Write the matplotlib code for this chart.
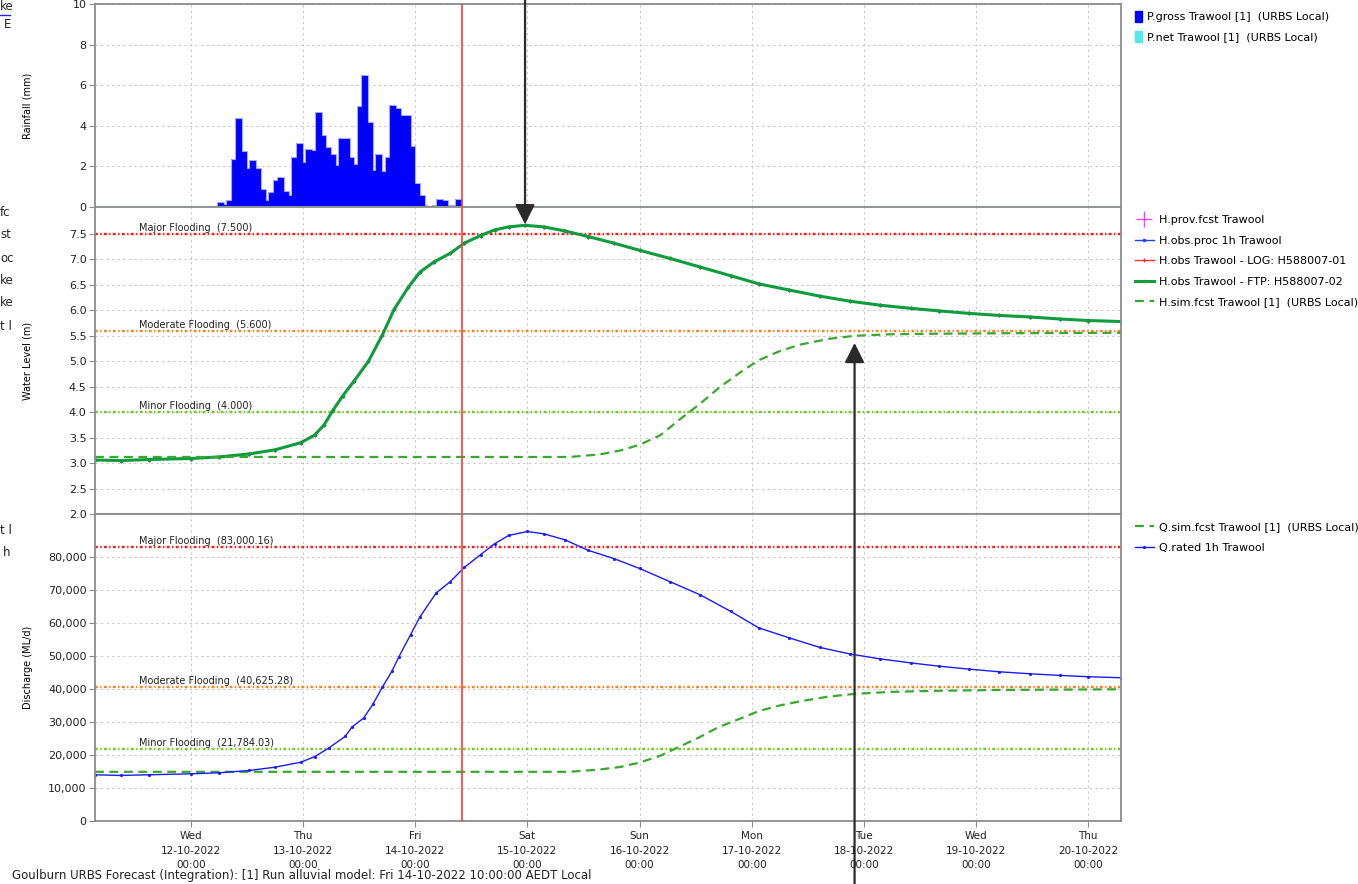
import numpy as np
import matplotlib
matplotlib.use("Agg")
import matplotlib.pyplot as plt
from matplotlib.patches import Patch
from matplotlib.lines import Line2D

# time axis in hours since Wed 12-10-2022 00:00
day_ticks = [0, 24, 48, 72, 96, 120, 144, 168, 192]
day_labels = ["Wed\n12-10-2022\n00:00", "Thu\n13-10-2022\n00:00", "Fri\n14-10-2022\n00:00",
              "Sat\n15-10-2022\n00:00", "Sun\n16-10-2022\n00:00", "Mon\n17-10-2022\n00:00",
              "Tue\n18-10-2022\n00:00", "Wed\n19-10-2022\n00:00", "Thu\n20-10-2022\n00:00"]
forecast_time = 58.0  # Fri 14-10-2022 10:00

# rainfall, half-hourly (run length encoded: value, number of half hours)
rain_start = 5.5
rain_mm = [0.26, 0.15, 0.33, 2.35, 4.37, 2.76, 1.9, 2.3, 1.94, 0.87,
           0.34, 0.74, 1.31, 1.49, 0.8, 0.57, 2.46, 3.15, 2.23, 2.87,
           2.81, 4.69, 3.55, 2.97, 2.63, 2.07, 3.38, 2.46, 2.12, 4.99,
           6.49, 4.2, 1.81, 2.63, 1.79, 2.46, 5.01, 4.89, 4.53, 4.55,
           2.99, 1.2, 0.61, 0.1, 0.0, 0.1, 0.39, 0.33, 0.1, 0.39]
rain_n = [3, 1, 2, 2, 3, 2, 1, 3, 2, 2,
          1, 2, 2, 3, 2, 1, 2, 3, 1, 3,
          1, 3, 2, 2, 2, 1, 5, 2, 1, 2,
          3, 2, 1, 3, 1, 2, 3, 2, 1, 3,
          2, 2, 2, 1, 2, 2, 3, 2, 3, 3]
pnet_hours = [-20.5, 199]
pnet_mm = [0, 0]

# water level observed
lvl_hours = [-20.5, -15, -9, 0, 6, 12.5, 18, 23.5, 26.5, 28.5,
             30.5, 32.5, 35, 38, 41, 43.5, 46.5, 49, 52, 55.5,
             58.5, 62, 65, 68, 71.5, 75.5, 80, 85, 90.5, 96,
             102.5, 109, 115.5, 121.5, 128, 134.5, 141, 147.5, 154, 160,
             166.5, 173, 179.5, 186, 192, 199]
lvl_obs = [3.06, 3.05, 3.07, 3.09, 3.12, 3.18, 3.26, 3.40, 3.55, 3.75,
           4.05, 4.32, 4.62, 5.00, 5.52, 6.02, 6.45, 6.75, 6.95, 7.12,
           7.32, 7.47, 7.58, 7.64, 7.67, 7.64, 7.56, 7.45, 7.32, 7.18,
           7.02, 6.85, 6.68, 6.52, 6.40, 6.28, 6.18, 6.10, 6.04, 5.99,
           5.94, 5.90, 5.87, 5.83, 5.80, 5.78]

# simulated forecast (level and discharge share the same times)
sim_hours = [-20.5, 81, 87.5, 92, 96, 100.5, 104.5, 109, 113, 117.5,
             121.5, 126, 130.5, 136.5, 142, 149.5, 158, 173, 199]
lvl_sim = [3.12, 3.12, 3.17, 3.25, 3.36, 3.55, 3.85, 4.17, 4.48, 4.78,
           5.02, 5.20, 5.33, 5.44, 5.50, 5.53, 5.54, 5.55, 5.56]
q_sim = [14900, 14900, 15600, 16400, 17700, 19800, 22500, 25500, 28500, 31000,
         33300, 35000, 36300, 37700, 38500, 39100, 39400, 39700, 39900]

# rated discharge
q_hours = [-20.5, -15, -9, 0, 6, 12.5, 18, 23.5, 26.5, 29.5,
           33, 34.5, 37, 39, 41, 43, 44.5, 47, 49, 52.5,
           55.5, 58.5, 62, 65, 68, 72, 75.5, 80, 85, 90.5,
           96, 102.5, 109, 115.5, 121.5, 128, 134.5, 141, 147.5, 154,
           160, 166.5, 173, 179.5, 186, 192, 199]
q_rated = [14000, 13800, 14000, 14300, 14600, 15300, 16300, 17800, 19500, 22100,
           25600, 28500, 31200, 35500, 40600, 45300, 49700, 56400, 61800, 69100,
           72500, 76800, 80700, 84000, 86500, 87700, 87000, 85200, 82000, 79500,
           76500, 72500, 68500, 63500, 58500, 55500, 52600, 50600, 49100, 47900,
           46900, 46000, 45200, 44600, 44100, 43700, 43400]

lvl_thr = [7.5, 5.6, 4.0]
lvl_thr_labels = ["Major Flooding  (7.500)", "Moderate Flooding  (5.600)", "Minor Flooding  (4.000)"]
q_thr = [83000.16, 40625.28, 21784.03]
q_thr_labels = ["Major Flooding  (83,000.16)", "Moderate Flooding  (40,625.28)", "Minor Flooding  (21,784.03)"]
thr_colors = ["#ff1a1a", "#ff8020", "#70cc20"]

peak_time, peak_level = 71.5, 7.67
sim_arrow_time, sim_arrow_level = 142, 5.36

W, H = 1358, 884
fig = plt.figure(figsize=(W / 100, H / 100), dpi=100)


def box(l, t, r, b):
    return [l / W, 1 - b / H, (r - l) / W, (b - t) / H]


ax1 = fig.add_axes(box(95, 4, 1121, 207))
ax2 = fig.add_axes(box(95, 207, 1121, 514), sharex=ax1)
ax3 = fig.add_axes(box(95, 514, 1121, 821), sharex=ax1)

narrow = ["Liberation Sans Narrow", "DejaVu Sans"]
grid_kw = dict(color="#c8c8c8", linestyle=(0, (2, 3)), linewidth=0.8)
for ax in (ax1, ax2, ax3):
    ax.grid(True, **grid_kw)
    ax.set_axisbelow(True)
    for s in ax.spines.values():
        s.set_color("#8c8c8c")
        s.set_linewidth(1.3)
    ax.tick_params(axis="y", length=4, color="#8c8c8c", labelsize=8, pad=2, labelcolor="#222222")
    ax.axvline(forecast_time, color="#ff3b3b", lw=1.2, zorder=4)
ax1.tick_params(axis="x", length=0, labelbottom=False)
ax2.tick_params(axis="x", length=0, labelbottom=False)

ax1.set_xlim(-20.5, 199)
ax1.set_xticks(day_ticks)

leg_kw = dict(frameon=False, fontsize=8, handletextpad=0.5, borderaxespad=0, borderpad=0)
sim_dash = (0, (4, 2.5))

# rainfall panel
rain = np.repeat(rain_mm, rain_n)
edges = rain_start + 0.5 * np.arange(len(rain) + 1)
ax1.stairs(rain, edges, fill=True, color="#0000ff", zorder=2)
ax1.stairs(rain, edges, color="#a8a8ff", lw=0.8, zorder=2)
ax1.plot(pnet_hours, pnet_mm, color="#4fe3e3", lw=2.2, zorder=3)
ax1.set_ylim(0, 10)
ax1.set_yticks(range(0, 11, 2))
ax1.set_ylabel("Rainfall (mm)", fontsize=7)
ax1.yaxis.set_label_coords(-62 / 1026, 0.5)
fig.legend([Patch(color="#0000ff"), Patch(color="#55e8e8")],
           ["P.gross Trawool [1]  (URBS Local)", "P.net Trawool [1]  (URBS Local)"],
           loc="upper left", bbox_to_anchor=(1135 / W, 1 - 11 / H),
           handlelength=0.6, handleheight=1.2, labelspacing=0.75, **leg_kw)

# water level panel
dash_thr = (0, (1.2, 1.0, 0.6, 1.0))
for thr, lab, col in zip(lvl_thr, lvl_thr_labels, thr_colors):
    ax2.axhline(thr, color=col, lw=1.7, linestyle=dash_thr, zorder=2)
    ax2.text(-11, thr + 0.02, lab, fontsize=7, va="bottom", color="#222222", family=narrow)
ax2.plot([], [], color="#ff40ff", marker="+", ms=11, ls="none", label="H.prov.fcst Trawool")
ax2.plot(lvl_hours, lvl_obs, color="#2040ff", lw=1, marker=".", ms=3, label="H.obs.proc 1h Trawool")
ax2.plot(lvl_hours, lvl_obs, color="#ff3030", lw=1, marker="|", ms=3, label="H.obs Trawool - LOG: H588007-01")
ax2.plot(lvl_hours, lvl_obs, color="#0f9c3c", lw=2.2, marker=".", ms=3, label="H.obs Trawool - FTP: H588007-02")
ax2.plot(sim_hours, lvl_sim, color="#3aa82e", lw=1.6, linestyle=sim_dash, label="H.sim.fcst Trawool [1]  (URBS Local)")
ax2.set_ylim(2.0, 8.03)
ax2.set_yticks(np.arange(2.0, 7.51, 0.5))
ax2.set_yticklabels([f"{v:.1f}" for v in np.arange(2.0, 7.51, 0.5)])
ax2.set_ylabel("Water Level (m)", fontsize=7)
ax2.yaxis.set_label_coords(-62 / 1026, 0.5)
ax2.legend(loc="upper left", bbox_to_anchor=(1135 / W, 1 - 215 / H), bbox_transform=fig.transFigure,
           handlelength=1.7, labelspacing=0.95, **leg_kw)

# discharge panel
for thr, lab, col in zip(q_thr, q_thr_labels, thr_colors):
    ax3.axhline(thr, color=col, lw=1.7, linestyle=dash_thr, zorder=2)
    ax3.text(-11, thr + 300, lab, fontsize=7, va="bottom", color="#222222", family=narrow)
ax3.plot(sim_hours, q_sim, color="#3aa82e", lw=1.6, linestyle=sim_dash, label="Q.sim.fcst Trawool [1]  (URBS Local)")
ax3.plot(q_hours, q_rated, color="#1a1aff", lw=1, marker=".", ms=2.5, label="Q.rated 1h Trawool")
ax3.set_ylim(0, 93000)
ax3.set_yticks(range(0, 80001, 10000))
ax3.set_yticklabels([f"{v:,}" for v in range(0, 80001, 10000)])
ax3.set_ylabel("Discharge (ML/d)", fontsize=7)
ax3.yaxis.set_label_coords(-62 / 1026, 0.5)
ax3.set_xticklabels(day_labels)
ax3.tick_params(axis="x", length=4, color="#8c8c8c", labelsize=7.5, pad=3, labelcolor="#222222")
for lbl in ax3.get_xticklabels():
    lbl.set_family(narrow)
    lbl.set_linespacing(1.6)
ax3.legend(loc="upper left", bbox_to_anchor=(1135 / W, 1 - 522 / H), bbox_transform=fig.transFigure,
           handlelength=1.7, labelspacing=0.95, **leg_kw)

# arrows
arrow_kw = dict(arrowstyle="-|>,head_length=0.6,head_width=0.3", mutation_scale=20,
                lw=1.6, color="#2a2a2a", shrinkA=0, shrinkB=0, clip_on=False)
ax2.annotate("", xy=(peak_time, peak_level + 0.02), xytext=(peak_time, 1.0),
             textcoords=("data", "figure fraction"), arrowprops=arrow_kw, annotation_clip=False)
ax3.annotate("", xy=(sim_arrow_time, sim_arrow_level), xycoords=ax2.transData,
             xytext=(sim_arrow_time, 0.0), textcoords=("data", "figure fraction"),
             arrowprops=arrow_kw, annotation_clip=False)

# bits of the neighbouring panel at the left edge and the footer
fragments = [("ke", 0, 7), ("E", 4, 25), ("fc", 0, 212), ("st", 0, 235), ("oc", 0, 258),
             ("ke", 0, 281), ("ke", 0, 303), ("t l", 0, 327), ("t l", 0, 530), ("h", 3, 553)]
for txt, px, py in fragments:
    fig.text(px / W, 1 - py / H, txt, fontsize=8.5, va="center", color="#222222")
fig.add_artist(Line2D([0, 10 / W], [1 - 15 / H, 1 - 15 / H], color="#2020ff", lw=1))
fig.text(12 / W, 2 / H,
         "Goulburn URBS Forecast (Integration): [1] Run alluvial model: Fri 14-10-2022 10:00:00 AEDT Local",
         fontsize=8.5, va="bottom", color="#222222")

fig.savefig("out.png", dpi=100)
